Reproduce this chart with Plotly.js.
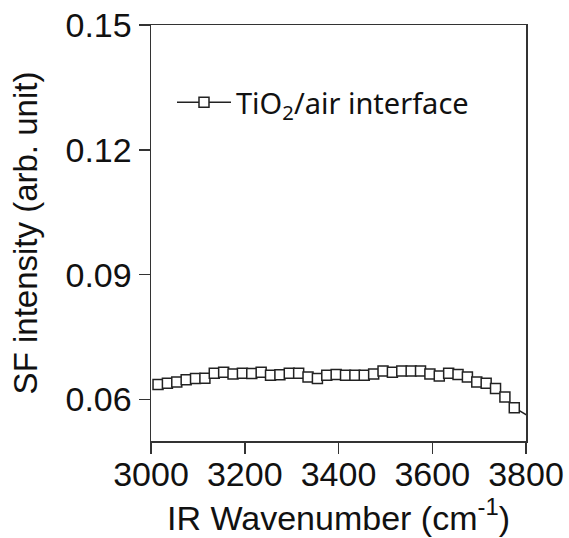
<!DOCTYPE html>
<html>
<head>
<meta charset="utf-8">
<script src="https://cdn.plot.ly/plotly-3.0.1.min.js"></script>
<style>html,body{margin:0;padding:0;background:#fff;}#chart{width:569px;height:538px;}</style>
</head>
<body>
<div id="chart"></div>
<script>
// Data
const wavenumber = [3015,3035,3055,3075,3095,3115,3135,3155,3175,3195,
                    3215,3235,3255,3275,3295,3315,3335,3355,3375,3395,
                    3415,3435,3455,3475,3495,3515,3535,3555,3575,3595,
                    3615,3635,3655,3675,3695,3715,3735,3755,3775,3815];
const sfIntensity = [0.0636,0.0639,0.0642,0.0647,0.0650,0.0651,0.0663,0.0665,0.0661,0.0663,
                     0.0662,0.0665,0.0658,0.0659,0.0663,0.0663,0.0654,0.0650,0.0658,0.0660,
                     0.0658,0.0658,0.0658,0.0661,0.0668,0.0665,0.0668,0.0668,0.0668,0.0661,
                     0.0656,0.0663,0.0660,0.0654,0.0642,0.0639,0.0626,0.0606,0.0580,0.0553];
const seriesName = 'TiO<sub>2</sub>/air interface';
const yTicks = [0.06, 0.09, 0.12, 0.15];
const xTicks = [3000, 3200, 3400, 3600, 3800];

const trace = {
  x: wavenumber, y: sfIntensity, name: seriesName,
  type: 'scatter', mode: 'lines+markers',
  line: {color: '#222', width: 1.5},
  marker: {symbol: 'square', size: 10, color: '#fff', line: {color: '#222', width: 1.5}}
};

const axisCommon = {
  showline: true, mirror: true, linecolor: '#333', linewidth: 1.5,
  ticks: 'outside', ticklen: 11, tickwidth: 1.5, tickcolor: '#333',
  showgrid: false, zeroline: false,
  tickfont: {family: 'Liberation Sans, Arial, sans-serif', size: 34, color: '#111'}
};

const layout = {
  width: 569, height: 538,
  margin: {l: 151, r: 43, t: 25, b: 97},
  paper_bgcolor: '#fff', plot_bgcolor: '#fff',
  showlegend: true,
  legend: {x: 0.056, y: 0.875, xanchor: 'left', yanchor: 'top', bgcolor: 'rgba(0,0,0,0)',
           itemwidth: 54,
           font: {family: 'Noto Sans, Open Sans, sans-serif', size: 29, color: '#111'}},
  xaxis: Object.assign({}, axisCommon, {
    range: [3000, 3800], tickvals: xTicks, ticktext: xTicks.map(String),
    ticklabelstandoff: -8,
    title: {text: 'IR Wavenumber (cm<sup>-1</sup>)', standoff: 8,
            font: {family: 'Liberation Sans, Arial, sans-serif', size: 34, color: '#111'}}
  }),
  yaxis: Object.assign({}, axisCommon, {
    range: [0.05, 0.15], tickvals: yTicks, ticktext: yTicks.map(v => v.toFixed(2)),
    title: {text: 'SF intensity (arb. unit)', standoff: 18,
            font: {family: 'Liberation Sans, Arial, sans-serif', size: 33, color: '#111'}}
  })
};

Plotly.newPlot('chart', [trace], layout, {displayModeBar: false, staticPlot: true});
</script>
</body>
</html>
